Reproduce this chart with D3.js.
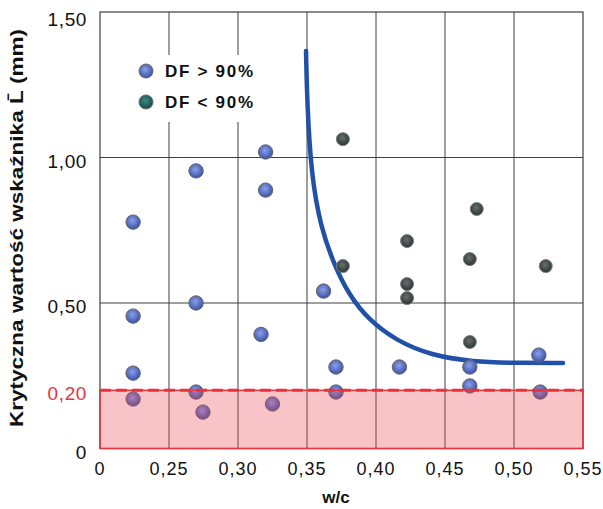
<!DOCTYPE html>
<html>
<head>
<meta charset="utf-8">
<script src="https://cdn.jsdelivr.net/npm/d3@7"></script>
<style>
  body { margin: 0; background: #fff; }
  svg { font-family: "Liberation Sans", Arial, sans-serif; }
</style>
</head>
<body>
<svg id="chart" width="603" height="509"></svg>
<script>
// ticks
const xTicks = [0.20, 0.25, 0.30, 0.35, 0.40, 0.45, 0.50, 0.55];
const xTickLabels = ["0", "0,25", "0,30", "0,35", "0,40", "0,45", "0,50", "0,55"];
const yTicks = [0, 0.20, 0.50, 1.00, 1.50];
const yTickLabels = ["0", "0,20", "0,50", "1,00", "1,50"];
const yGrid = [0.50, 1.00];

// DF > 90%
const dfHighWc = [0.224, 0.224, 0.224, 0.224, 0.2696, 0.2696, 0.2696, 0.2746, 0.3167, 0.320, 0.320, 0.325, 0.362, 0.371, 0.371, 0.417, 0.468, 0.468, 0.518, 0.519];
const dfHighL  = [0.778, 0.455, 0.259, 0.170, 0.954, 0.500, 0.194, 0.125, 0.392, 1.019, 0.888, 0.153, 0.541, 0.280, 0.194, 0.280, 0.280, 0.215, 0.321, 0.194];

// DF < 90%
const dfLowWc = [0.376, 0.376, 0.4225, 0.4225, 0.4225, 0.468, 0.473, 0.468, 0.523];
const dfLowL  = [1.063, 0.627, 0.713, 0.565, 0.517, 0.651, 0.823, 0.366, 0.627];

// trend curve
const curveWc = [0.3493, 0.3500, 0.3530, 0.3600, 0.3690, 0.3800, 0.3950, 0.4150, 0.4400, 0.4700, 0.5000, 0.5355];
const curveL  = [1.366, 1.200, 0.940, 0.760, 0.640, 0.530, 0.440, 0.370, 0.320, 0.298, 0.294, 0.294];

const limit = 0.20;

const svg = d3.select("#chart");
const x = d3.scaleLinear().domain([0.20, 0.55]).range([100, 583]);
const y = d3.scaleLinear().domain([0, 1.5]).range([448.5, 12]);

const defs = svg.append("defs");
function grad(id, c0, c1) {
  const g = defs.append("radialGradient").attr("id", id)
    .attr("cx", "45%").attr("cy", "40%").attr("r", "60%");
  g.append("stop").attr("offset", "0%").attr("stop-color", c0);
  g.append("stop").attr("offset", "100%").attr("stop-color", c1);
}
grad("gBlue", "#8aa0ea", "#3b50a6");
grad("gDark", "#687070", "#2c3232");
grad("gTeal", "#3f8a86", "#134a48");

// grid
const grid = svg.append("g").attr("stroke", "#3c4040").attr("stroke-width", 1);
grid.selectAll("line.v").data(xTicks.slice(1, -1)).enter().append("line")
  .attr("x1", d => x(d)).attr("x2", d => x(d))
  .attr("y1", y(1.5)).attr("y2", y(0));
grid.selectAll("line.h").data(yGrid).enter().append("line")
  .attr("x1", x(0.20)).attr("x2", x(0.55))
  .attr("y1", d => y(d)).attr("y2", d => y(d));
svg.append("rect")
  .attr("x", x(0.20)).attr("y", y(1.5))
  .attr("width", x(0.55) - x(0.20)).attr("height", y(0) - y(1.5))
  .attr("fill", "none").attr("stroke", "#3c4040").attr("stroke-width", 1.2);

// legend
svg.append("rect").attr("x", 162).attr("y", 55).attr("width", 94).attr("height", 67).attr("fill", "#fff");
const legend = [
  { label: "DF > 90%", fill: "url(#gBlue)", cy: 71 },
  { label: "DF < 90%", fill: "url(#gTeal)", cy: 102 }
];
const lg = svg.append("g").selectAll("g").data(legend).enter().append("g");
lg.append("circle").attr("cx", 146).attr("cy", d => d.cy).attr("r", 7)
  .attr("fill", d => d.fill).attr("stroke", "#666").attr("stroke-width", 1);
lg.append("text").attr("x", 165).attr("y", d => d.cy + 6)
  .attr("font-size", 17).attr("font-weight", "bold")
  .attr("textLength", 88).attr("lengthAdjust", "spacing")
  .attr("fill", "#111").text(d => d.label);

// curve
const line = d3.line().x(d => x(d[0])).y(d => y(d[1])).curve(d3.curveBasis);
svg.append("path").datum(d3.zip(curveWc, curveL))
  .attr("d", line).attr("fill", "none")
  .attr("stroke", "#2150a8").attr("stroke-width", 4.5)
  .attr("stroke-linecap", "round");

// points
svg.append("g").selectAll("circle").data(d3.zip(dfLowWc, dfLowL)).enter().append("circle")
  .attr("cx", d => x(d[0])).attr("cy", d => y(d[1])).attr("r", 6.5)
  .attr("fill", "url(#gDark)").attr("stroke", "#7a7f7f").attr("stroke-width", 1);
svg.append("g").selectAll("circle").data(d3.zip(dfHighWc, dfHighL)).enter().append("circle")
  .attr("cx", d => x(d[0])).attr("cy", d => y(d[1])).attr("r", 7.2)
  .attr("fill", "url(#gBlue)").attr("stroke", "#666").attr("stroke-width", 1);

// critical zone
svg.append("rect")
  .attr("x", x(0.20)).attr("y", y(limit))
  .attr("width", x(0.55) - x(0.20)).attr("height", y(0) - y(limit))
  .attr("fill", "rgba(236, 70, 84, 0.32)")
  .attr("stroke", "#e8323c").attr("stroke-width", 1.5);
svg.append("line")
  .attr("x1", x(0.20)).attr("x2", x(0.55))
  .attr("y1", y(limit)).attr("y2", y(limit))
  .attr("stroke", "#e8323c").attr("stroke-width", 3)
  .attr("stroke-dasharray", "11,5");

// y tick labels
svg.append("g").selectAll("text").data(yTicks).enter().append("text")
  .attr("x", 87).attr("y", d => y(d) + (d === 1.5 ? 14 : 10))
  .attr("text-anchor", "end").attr("font-size", 19).attr("letter-spacing", 0.6)
  .attr("fill", d => d === limit ? "#e8323c" : "#111")
  .text((d, i) => yTickLabels[i]);

// x tick labels
svg.append("g").selectAll("text").data(xTicks).enter().append("text")
  .attr("x", d => x(d)).attr("y", 475)
  .attr("text-anchor", "middle").attr("font-size", 18).attr("letter-spacing", 1)
  .attr("fill", "#111")
  .text((d, i) => xTickLabels[i]);

// axis titles
svg.append("text").attr("x", 336).attr("y", 503)
  .attr("text-anchor", "middle").attr("font-size", 17).attr("font-weight", "bold")
  .attr("fill", "#111").text("w/c");
svg.append("text")
  .attr("transform", "translate(23,228) rotate(-90)")
  .attr("text-anchor", "middle").attr("font-size", 19).attr("font-weight", "bold")
  .attr("textLength", 398).attr("lengthAdjust", "spacingAndGlyphs")
  .attr("fill", "#111").text("Krytyczna wartość wskaźnika L\u0304 (mm)");
</script>
</body>
</html>
